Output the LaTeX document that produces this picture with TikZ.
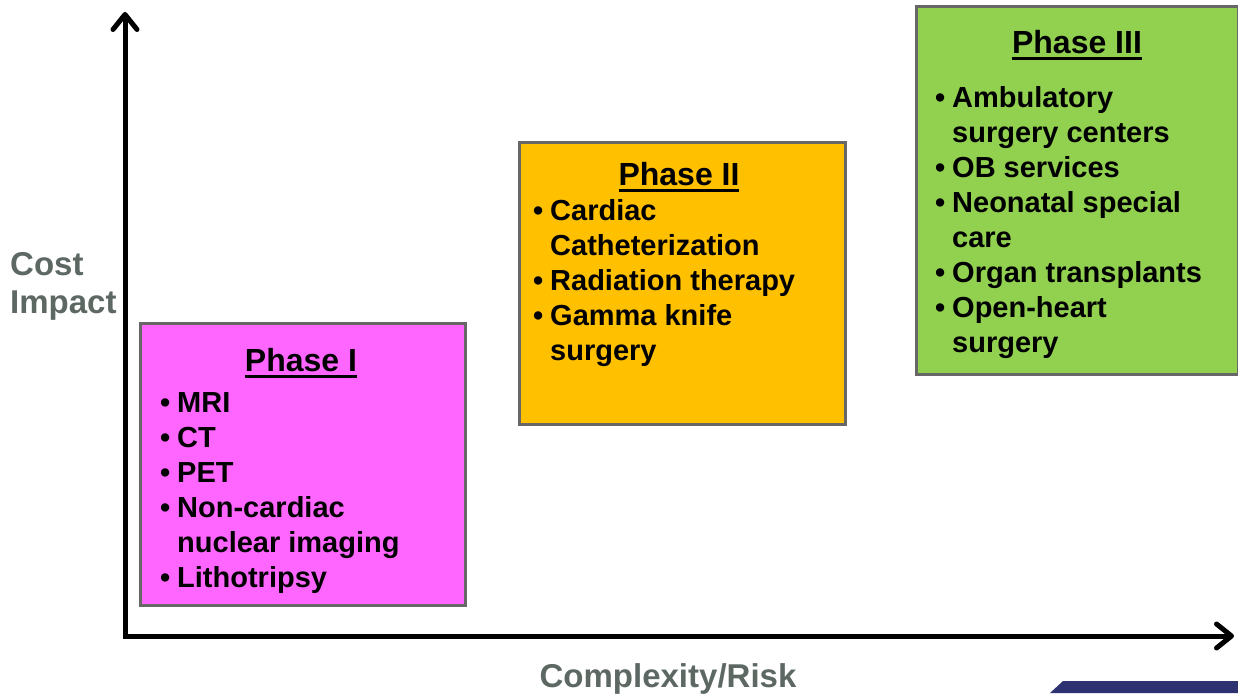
\documentclass[tikz,border=0pt]{standalone}
\usepackage{fontspec}
\setmainfont{Liberation Sans}
\usetikzlibrary{arrows.meta}
\definecolor{phaseone}{HTML}{FF66FF}
\definecolor{phasetwo}{HTML}{FFC000}
\definecolor{phasethree}{HTML}{92D050}
\definecolor{boxgray}{HTML}{676767}
\definecolor{axisgray}{HTML}{5D6863}
\definecolor{logoblue}{HTML}{2F3270}
\newcommand{\bul}{\makebox[17pt][l]{\textbullet}}
\newcommand{\ind}{\hspace*{17pt}}
\newcommand{\phaseul}[1]{\setbox0\hbox{#1}\rlap{\rule[-7pt]{\wd0}{3pt}}\box0}
\tikzset{
  phasebox/.style={draw=boxgray, line width=3pt, anchor=north west, inner sep=0pt},
  phasetitle/.style={anchor=base, inner sep=0pt, font=\fontsize{32}{38}\selectfont\bfseries},
  phaselist/.style={anchor=base west, inner sep=0pt, align=left, font=\fontsize{29}{35}\selectfont\bfseries},
  axislabel/.style={inner sep=0pt, text=axisgray, font=\fontsize{33}{38}\selectfont\bfseries},
  axis/.style={line width=5pt, {Straight Barb[length=15pt,width=24pt,round]}-{Straight Barb[length=15pt,width=24pt,round]}}
}
\begin{document}
\begin{tikzpicture}[x=1pt,y=-1pt]
  \useasboundingbox (0,0) rectangle (1238,693);
  % axes
  \coordinate (origin) at (125,636);
  \coordinate (ytip) at (125,12);
  \coordinate (xtip) at (1234,636);
  \draw[axis] (ytip) -- (origin) -- (xtip);
  \node[axislabel, anchor=base west, align=left] (costimpact) at (10,313) {Cost\\Impact};
  \node[axislabel, anchor=base] (complexity) at (668,687) {Complexity/Risk};
  % phase I
  \node[phasebox, fill=phaseone, minimum width=325pt, minimum height=282pt] (p1) at (139,322) {};
  \node[phasetitle] (p1title) at (301,371) {\phaseul{Phase I}};
  \node[phaselist] (p1list) at (160,587) {\bul MRI\\ \bul CT\\ \bul PET\\ \bul Non-cardiac\\ \ind nuclear imaging\\ \bul Lithotripsy};
  % phase II
  \node[phasebox, fill=phasetwo, minimum width=326pt, minimum height=282pt] (p2) at (518,141) {};
  \node[phasetitle] (p2title) at (679,185) {\phaseul{Phase II}};
  \node[phaselist] (p2list) at (533,360) {\bul Cardiac\\ \ind Catheterization\\ \bul Radiation therapy\\ \bul Gamma knife\\ \ind surgery};
  % phase III
  \node[phasebox, fill=phasethree, minimum width=322pt, minimum height=368pt] (p3) at (915,5) {};
  \node[phasetitle] (p3title) at (1077,53) {\phaseul{Phase III}};
  \node[phaselist] (p3list) at (935,352) {\bul Ambulatory\\ \ind surgery centers\\ \bul OB services\\ \bul Neonatal special\\ \ind care\\ \bul Organ transplants\\ \bul Open-heart\\ \ind surgery};
  % logo strip
  \fill[logoblue] (1050,693) -- (1063,681) -- (1238,681) -- (1238,693) -- cycle;
\end{tikzpicture}
\end{document}
